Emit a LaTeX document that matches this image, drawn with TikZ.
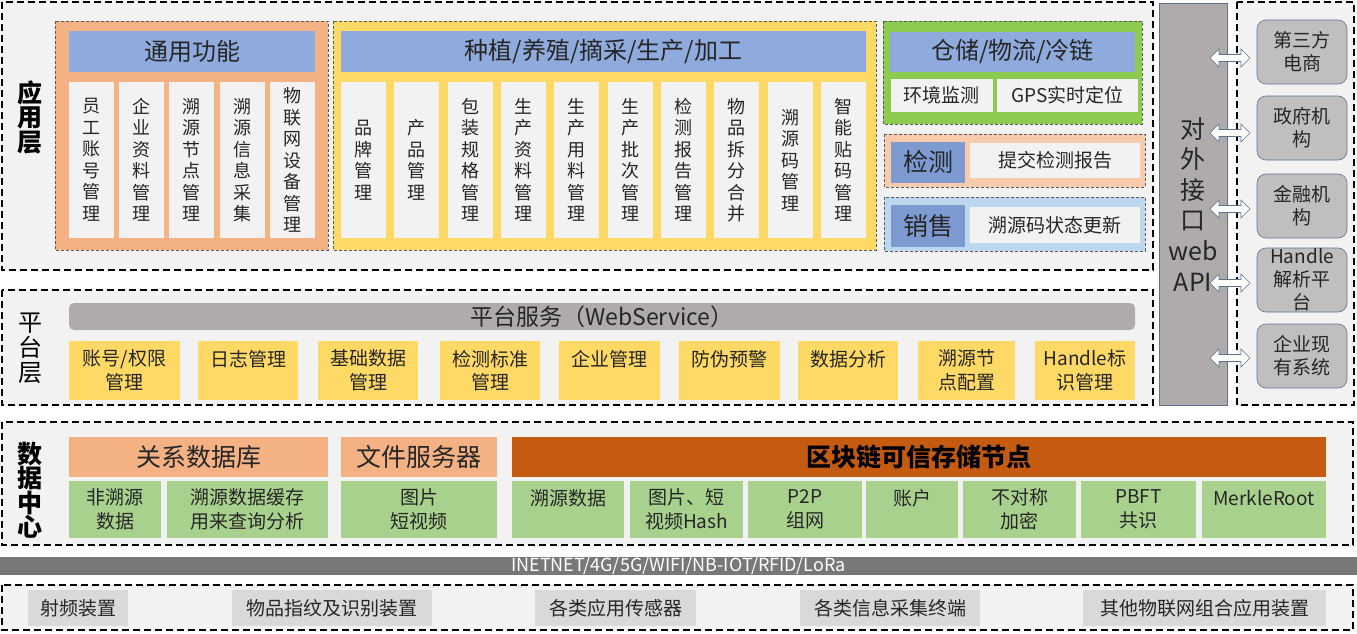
\documentclass[tikz,border=0pt]{standalone}
\usepackage{fontspec}
\setmainfont{Noto Sans CJK SC}
\definecolor{panelgray}{RGB}{242,242,242}
\definecolor{itemgray}{RGB}{242,242,242}
\definecolor{grporange}{RGB}{244,177,131}
\definecolor{grpyellow}{RGB}{255,217,102}
\definecolor{grpgreen}{RGB}{140,203,80}
\definecolor{grppeach}{RGB}{248,203,173}
\definecolor{grplblue}{RGB}{189,215,238}
\definecolor{hdblue}{RGB}{143,170,220}
\definecolor{hddblue}{RGB}{125,155,208}
\definecolor{apigray}{RGB}{175,171,171}
\definecolor{extgray}{RGB}{191,191,191}
\definecolor{extline}{RGB}{95,115,145}
\definecolor{dborange}{RGB}{197,90,17}
\definecolor{dbgreen}{RGB}{169,209,142}
\definecolor{netgray}{RGB}{120,120,120}
\definecolor{devgray}{RGB}{217,217,217}

\begin{document}
\begin{tikzpicture}[x=1pt,y=-1pt,
    every node/.style={inner sep=0pt, align=center, text=black!85},
    layer/.style={draw=black, line width=1.8pt, dash pattern=on 7pt off 4pt, fill=panelgray},
    grp/.style={draw=black!65, line width=0.5pt, densely dashed},
    hdbox/.style={fill=hdblue, font=\fontsize{24}{28}\selectfont},
    colbox/.style={fill=itemgray, minimum width=45, minimum height=156, font=\fontsize{18}{21.5}\selectfont},
    subbox/.style={fill=itemgray, font=\fontsize{19}{23}\selectfont},
    svcbox/.style={fill=grpyellow, minimum height=59, font=\fontsize{19}{23.5}\selectfont},
    dbhead/.style={minimum height=40, font=\fontsize{25}{28}\selectfont},
    dbitem/.style={fill=dbgreen, minimum height=57, font=\fontsize{19}{24}\selectfont},
    devbox/.style={fill=devgray, minimum height=36, font=\fontsize{19}{23}\selectfont},
    extbox/.style={draw=extline, line width=0.6pt, fill=extgray, rounded corners=9pt, minimum width=90, minimum height=64, font=\fontsize{19}{23}\selectfont},
    lbl/.style={font=\bfseries\fontsize{25}{24.5}\selectfont, text=black},
    dblarr/.pic={\draw[draw=extline, fill=white, line width=0.6pt]
        (-20,0) -- (-11,-9) -- (-11,-3.5) -- (11,-3.5) -- (11,-9) -- (20,0)
        -- (11,9) -- (11,3.5) -- (-11,3.5) -- (-11,9) -- cycle;}
  ]
    \useasboundingbox[fill=white] (0,0) rectangle (1357,634);

    % --- application layer ---
    \draw[layer] (2,2) rectangle (1153,270);
    \node[lbl] (applbl) at (30,117) {应\\用\\层};

    % general functions
    \draw[grp, fill=grporange] (55,21) rectangle (328,250);
    \node[hdbox, minimum width=246, minimum height=41] (tyhd) at (192,51.5) {通用功能};
    \node[colbox] (ty1) at (91.5,160) {员\\工\\账\\号\\管\\理};
    \node[colbox] (ty2) at (141.5,160) {企\\业\\资\\料\\管\\理};
    \node[colbox] (ty3) at (191.5,160) {溯\\源\\节\\点\\管\\理};
    \node[colbox] (ty4) at (242.5,160) {溯\\源\\信\\息\\采\\集};
    \node[colbox] (ty5) at (292.5,160) {物\\联\\网\\设\\备\\管\\理};

    % production
    \draw[grp, fill=grpyellow] (333,21) rectangle (876,250);
    \node[hdbox, minimum width=525, minimum height=41] (sched) at (603.5,51.5) {种植/养殖/摘采/生产/加工};
    \node[colbox] (sc1) at (363.5,160) {品\\牌\\管\\理};
    \node[colbox] (sc2) at (416.8,160) {产\\品\\管\\理};
    \node[colbox] (sc3) at (470.2,160) {包\\装\\规\\格\\管\\理};
    \node[colbox] (sc4) at (523.5,160) {生\\产\\资\\料\\管\\理};
    \node[colbox] (sc5) at (576.8,160) {生\\产\\用\\料\\管\\理};
    \node[colbox] (sc6) at (630.2,160) {生\\产\\批\\次\\管\\理};
    \node[colbox] (sc7) at (683.5,160) {检\\测\\报\\告\\管\\理};
    \node[colbox] (sc8) at (736.8,160) {物\\品\\拆\\分\\合\\并};
    \node[colbox] (sc9) at (790.2,160) {溯\\源\\码\\管\\理};
    \node[colbox] (sc10) at (843.5,160) {智\\能\\贴\\码\\管\\理};

    % storage / logistics
    \draw[grp, fill=grpgreen] (883,21) rectangle (1142,124);
    \node[hdbox, minimum width=245, minimum height=40] (cchd) at (1012.5,52) {仓储/物流/冷链};
    \node[subbox, minimum width=102, minimum height=33] (cc1) at (941.5,95) {环境监测};
    \node[subbox, minimum width=141, minimum height=33] (cc2) at (1067.5,95) {GPS实时定位};

    % testing
    \draw[grp, fill=grppeach] (884,134) rectangle (1145,187);
    \node[fill=hddblue, minimum width=74, minimum height=41, font=\fontsize{25}{28}\selectfont] (jchd) at (928,162) {检测};
    \node[subbox, minimum width=170, minimum height=35] (jc1) at (1055,160.5) {提交检测报告};

    % sales
    \draw[grp, fill=grplblue] (884,197) rectangle (1145,251);
    \node[fill=hddblue, minimum width=74, minimum height=42, font=\fontsize{25}{28}\selectfont] (xshd) at (928,226) {销售};
    \node[subbox, minimum width=170, minimum height=36] (xs1) at (1055,225) {溯源码状态更新};

    % --- external interface ---
    \draw[layer] (1237,2) rectangle (1354,405);
    \node[draw=extline, line width=0.6pt, fill=apigray, minimum width=68, minimum height=402,
          font=\fontsize{25}{30.6}\selectfont] (api) at (1193,204) {对\\外\\接\\口\\web\\API};
    \node[extbox] (ext1) at (1302,52) {第三方\\电商};
    \node[extbox] (ext2) at (1302,128) {政府机\\构};
    \node[extbox] (ext3) at (1302,206) {金融机\\构};
    \node[extbox] (ext4) at (1302,280) {Handle\\解析平\\台};
    \node[extbox] (ext5) at (1302,356) {企业现\\有系统};
    \pic at (1230,58) {dblarr};
    \pic at (1230,133) {dblarr};
    \pic at (1230,209) {dblarr};
    \pic at (1230,283) {dblarr};
    \pic at (1230,358) {dblarr};

    % --- platform layer ---
    \draw[layer] (2,290) rectangle (1153,405);
    \node[font=\fontsize{24}{25}\selectfont, text=black] (ptlbl) at (30,348) {平\\台\\层};
    \node[fill=apigray, rounded corners=5pt, minimum width=1066, minimum height=27,
          font=\fontsize{23}{26}\selectfont] (svc) at (602,316.5) {平台服务（WebService）};
    \node[svcbox, minimum width=111] (pt1) at (124.5,370.5) {账号/权限\\管理};
    \node[svcbox, minimum width=100] (pt2) at (248,370.5) {日志管理\\~};
    \node[svcbox, minimum width=100] (pt3) at (368,370.5) {基础数据\\管理};
    \node[svcbox, minimum width=100] (pt4) at (490,370.5) {检测标准\\管理};
    \node[svcbox, minimum width=101] (pt5) at (609.5,370.5) {企业管理\\~};
    \node[svcbox, minimum width=101] (pt6) at (729.5,370.5) {防伪预警\\~};
    \node[svcbox, minimum width=100] (pt7) at (848,370.5) {数据分析\\~};
    \node[svcbox, minimum width=97] (pt8) at (966.5,370.5) {溯源节\\点配置};
    \node[svcbox, minimum width=100] (pt9) at (1085,370.5) {Handle标\\识管理};

    % --- data center ---
    \draw[layer] (2,422) rectangle (1353,545);
    \node[lbl] (dblbl) at (30,490) {数\\据\\中\\心};
    \node[dbhead, fill=grporange, minimum width=259] (rdb) at (198.5,457) {关系数据库};
    \node[dbhead, fill=grporange, minimum width=156] (fsrv) at (419,457) {文件服务器};
    \node[dbhead, fill=dborange, minimum width=814, font=\bfseries\fontsize{25}{28}\selectfont, text=black] (bc) at (919,457) {区块链可信存储节点};
    \node[dbitem, minimum width=92] (db1) at (115,509.5) {非溯源\\数据};
    \node[dbitem, minimum width=161] (db2) at (247.5,509.5) {溯源数据缓存\\用来查询分析};
    \node[dbitem, minimum width=156] (db3) at (419,509.5) {图片\\短视频};
    \node[dbitem, minimum width=112] (db4) at (568,509.5) {溯源数据\\~};
    \node[dbitem, minimum width=113] (db5) at (686.5,509.5) {图片、短\\视频Hash};
    \node[dbitem, minimum width=114] (db6) at (805,509.5) {P2P\\组网};
    \node[dbitem, minimum width=92] (db7) at (912,509.5) {账户\\~};
    \node[dbitem, minimum width=113] (db8) at (1019.5,509.5) {不对称\\加密};
    \node[dbitem, minimum width=115] (db9) at (1138.5,509.5) {PBFT\\共识};
    \node[dbitem, minimum width=124] (db10) at (1264,509.5) {MerkleRoot\\~};

    % --- network ---
    \node[fill=netgray, minimum width=1357, minimum height=18, text=white,
          font=\fontsize{18}{18}\selectfont] (net) at (678.5,566) {INETNET/4G/5G/WIFI/NB-IOT/RFID/LoRa};

    % --- devices ---
    \draw[layer] (2,585) rectangle (1353,630);
    \node[devbox, minimum width=100] (dv1) at (78,608) {射频装置};
    \node[devbox, minimum width=200] (dv2) at (332,608) {物品指纹及识别装置};
    \node[devbox, minimum width=161] (dv3) at (615.5,608) {各类应用传感器};
    \node[devbox, minimum width=180] (dv4) at (890,608) {各类信息采集终端};
    \node[devbox, minimum width=243] (dv5) at (1204.5,608) {其他物联网组合应用装置};
\end{tikzpicture}
\end{document}
